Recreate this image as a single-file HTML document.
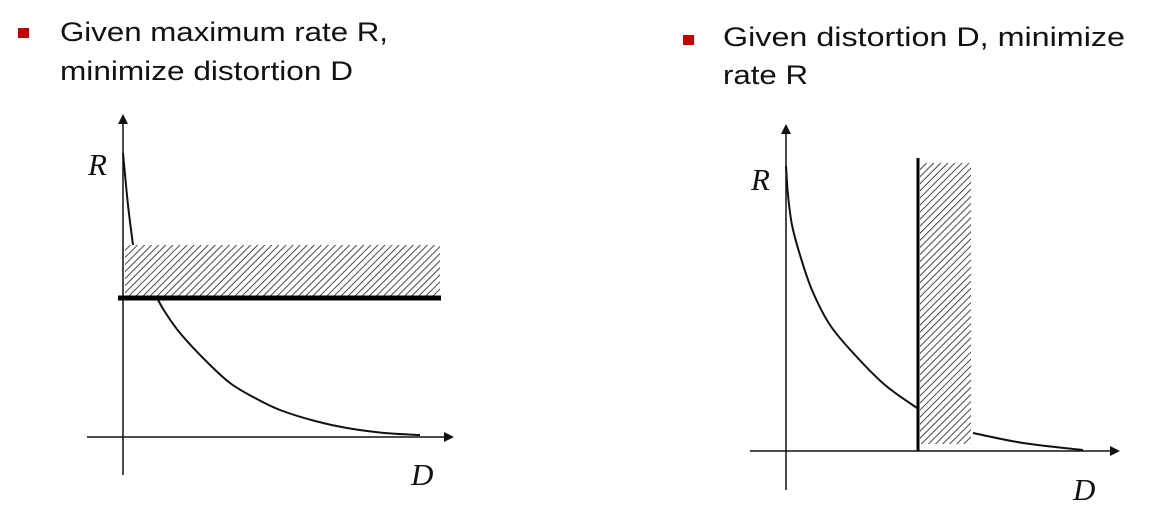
<!DOCTYPE html>
<html><head><meta charset="utf-8"><style>
html,body{margin:0;padding:0;background:#fff;}
svg{display:block;}
.t{font-family:"Liberation Sans",Arial,sans-serif;font-size:27px;fill:#111;}
.ax{font-family:"Liberation Serif","Times New Roman",serif;font-style:italic;font-size:31px;fill:#111;}
</style></head><body>
<svg id="s" width="1166" height="516" viewBox="0 0 1166 516" xmlns="http://www.w3.org/2000/svg">
<defs>
<pattern id="hatch" width="5" height="5" patternUnits="userSpaceOnUse" patternTransform="rotate(45)">
<rect width="5" height="5" fill="#fff"/><line x1="0" y1="0" x2="0" y2="5" stroke="#333" stroke-width="1.8"/>
</pattern>
<marker id="arr" markerWidth="10" markerHeight="10" refX="8" refY="5" orient="auto" markerUnits="userSpaceOnUse"><path d="M0,0 L10,5 L0,10 z" fill="#111"/></marker>
</defs>
<rect x="18" y="28" width="11" height="10" fill="#c00000"/>
<text class="t" x="60" y="41" textLength="328" lengthAdjust="spacingAndGlyphs">Given maximum rate R,</text>
<text class="t" x="60" y="80" textLength="293" lengthAdjust="spacingAndGlyphs">minimize distortion D</text>
<rect x="683" y="35" width="11" height="10" fill="#c00000"/>
<text class="t" x="723" y="46" textLength="402" lengthAdjust="spacingAndGlyphs">Given distortion D, minimize</text>
<text class="t" x="723" y="84" textLength="85" lengthAdjust="spacingAndGlyphs">rate R</text>

<g>
<rect x="125" y="245" width="315" height="51" fill="url(#hatch)"/>
<line x1="123" y1="475" x2="123" y2="116" stroke="#111" stroke-width="1.5" marker-end="url(#arr)"/>
<line x1="87" y1="437" x2="452" y2="437" stroke="#111" stroke-width="1.5" marker-end="url(#arr)"/>
<path id="lc1" fill="none" stroke="#111" stroke-width="2"/>
<path id="lc2" fill="none" stroke="#111" stroke-width="2"/>
<line x1="118" y1="298" x2="441" y2="298" stroke="#000" stroke-width="5"/>
<text class="ax" x="88" y="175">R</text>
<text class="ax" x="411" y="485">D</text>
</g>

<g>
<rect x="920" y="163" width="51" height="281" fill="url(#hatch)"/>
<line x1="786" y1="490" x2="786" y2="126" stroke="#111" stroke-width="1.5" marker-end="url(#arr)"/>
<line x1="750" y1="451" x2="1118" y2="451" stroke="#111" stroke-width="1.5" marker-end="url(#arr)"/>
<path id="rc1" fill="none" stroke="#111" stroke-width="2"/>
<path id="rc2" fill="none" stroke="#111" stroke-width="2"/>
<line x1="918" y1="158" x2="918" y2="451" stroke="#000" stroke-width="3"/>
<text class="ax" x="751" y="190">R</text>
<text class="ax" x="1073" y="500">D</text>
</g>
</svg>
<script>
// Curve samples (pixel-space sketch of rate-distortion curves)
const leftUpperX = [123, 128, 133];
const leftUpperY = [153, 205, 245];
const leftLowerX = [157, 165, 180, 205, 230, 255, 280, 315, 347, 385, 420];
const leftLowerY = [298, 312, 333, 360, 383, 398, 410, 421, 428, 433, 435];
const rightUpperX = [786, 788, 792, 800, 812, 830, 855, 885, 917];
const rightUpperY = [166, 195, 225, 255, 290, 325, 355, 385, 408];
const rightLowerX = [973, 1023, 1083];
const rightLowerY = [433, 443, 450];

function smooth(xs, ys){
  let d = 'M' + xs[0] + ',' + ys[0];
  for (let i = 0; i < xs.length - 1; i++){
    const x0 = xs[Math.max(i-1,0)], y0 = ys[Math.max(i-1,0)];
    const x1 = xs[i], y1 = ys[i], x2 = xs[i+1], y2 = ys[i+1];
    const x3 = xs[Math.min(i+2,xs.length-1)], y3 = ys[Math.min(i+2,ys.length-1)];
    const c1x = x1 + (x2-x0)/6, c1y = y1 + (y2-y0)/6;
    const c2x = x2 - (x3-x1)/6, c2y = y2 - (y3-y1)/6;
    d += ' C' + c1x + ',' + c1y + ' ' + c2x + ',' + c2y + ' ' + x2 + ',' + y2;
  }
  return d;
}
document.getElementById('lc1').setAttribute('d', smooth(leftUpperX, leftUpperY));
document.getElementById('lc2').setAttribute('d', smooth(leftLowerX, leftLowerY));
document.getElementById('rc1').setAttribute('d', smooth(rightUpperX, rightUpperY));
document.getElementById('rc2').setAttribute('d', smooth(rightLowerX, rightLowerY));
</script>
</body></html>
